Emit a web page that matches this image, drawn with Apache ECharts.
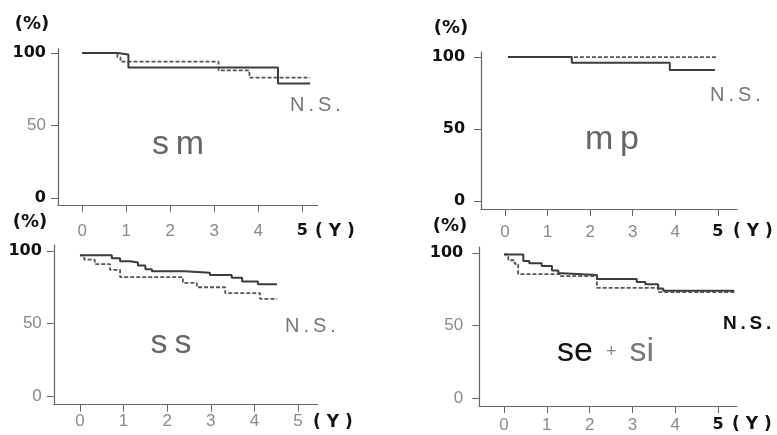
<!DOCTYPE html>
<html><head><meta charset="utf-8">
<script src="https://cdn.jsdelivr.net/npm/echarts@6/dist/echarts.min.js"></script>
<style>html,body{margin:0;padding:0;background:#fff}#c{width:777px;height:435px}</style>
</head><body><div id="c"></div>
<script>
// ---- data ----
const xTicks = [0, 1, 2, 3, 4, 5];
const yTicks = [0, 50, 100];
const panelNames = ['sm', 'mp', 'ss', 'se + si'];
const smSolid  = [[0,100],[0.8,99],[1.05,90],[4.45,79],[5.18,79]];
const smDashed = [[0,100],[0.8,97],[0.87,94],[3.1,88],[3.8,83],[5.18,83]];
const mpSolid  = [[0.07,100],[1.57,96],[3.87,91],[4.93,91]];
const mpDashed = [[0.07,100],[1.57,100],[4.97,100]];
const ssSolid  = [[0,97],[0.73,95],[0.92,93],[1.15,92],[1.33,90],[1.5,87.5],[1.65,86],[2.4,85],[2.98,83.5],[3.48,81.5],[3.72,79],[4.08,77],[4.52,77]];
const ssDashed = [[0,97],[0.1,94],[0.34,91],[0.69,87],[0.92,82],[2.36,78],[2.68,75],[3.33,71],[4.13,67],[4.52,67]];
const sesiSolid  = [[0,99],[0.45,94.5],[0.59,93],[0.88,91],[1.12,88],[1.27,86],[1.35,84.8],[2.17,82],[3.1,80],[3.3,78.5],[3.6,75.5],[3.72,74],[5.38,74]];
const sesiDashed = [[0,99],[0.1,95],[0.25,92.5],[0.33,85.5],[1.3,84],[2.17,76],[3.6,73],[5.38,73]];
const sigText = 'N.S.';

// ---- layout / style ----
const solidSets = [smSolid, mpSolid, ssSolid, sesiSolid];
const dashedSets = [smDashed, mpDashed, ssDashed, sesiDashed];
const panels = [
  {grid:{left:58,top:48.65,width:259.6,height:156.6}, x:[-0.55,5.35], y:[-5,103], xm:18, ym:12, yst:['b','g','b'], five:'b'},
  {grid:{left:481.1,top:52,width:256,height:157}, x:[-0.56,5.45], y:[-5.5,103.5], xm:15, ym:16, yst:['b','b','b'], five:'b'},
  {grid:{left:53.8,top:245.2,width:263.8,height:159.5}, x:[-0.6,5.45], y:[-6,104], xm:8, ym:12, yst:['g','g','b'], five:'g'},
  {grid:{left:479.2,top:247.2,width:257.7,height:158.8}, x:[-0.58,5.44], y:[-5.5,104], xm:11, ym:16, yst:['g','g','b'], five:'b'}
];
const rich = {
  g:{color:'#8a8a8a', fontSize:17, fontFamily:'Liberation Sans'},
  b:{color:'#111', fontSize:16, fontWeight:'bold', fontFamily:'DejaVu Sans'}
};
const axisLine = {show:true, onZero:false, lineStyle:{color:'#666', width:1.2}};
const grids=[], xAxes=[], yAxes=[], series=[];
panels.forEach((p,i)=>{
  grids.push(Object.assign({containLabel:false}, p.grid));
  xAxes.push({type:'value', gridIndex:i, min:p.x[0], max:p.x[1], axisLine,
    splitLine:{show:false},
    axisTick:{show:true, customValues:xTicks, length:7, lineStyle:{color:'#666'}},
    axisLabel:{customValues:xTicks, margin:p.xm, rich,
      formatter:v=> (v===5 ? '{'+p.five+'|5}' : '{g|'+v+'}')}});
  yAxes.push({type:'value', gridIndex:i, min:p.y[0], max:p.y[1], axisLine,
    splitLine:{show:false},
    axisTick:{show:true, customValues:yTicks, length:7, lineStyle:{color:'#666'}},
    axisLabel:{customValues:yTicks, margin:p.ym, rich,
      formatter:v=> '{'+p.yst[yTicks.indexOf(v)]+'|'+v+'}'}});
  series.push({type:'line', xAxisIndex:i, yAxisIndex:i, step:'end', symbol:'none', silent:true,
    data:dashedSets[i], lineStyle:{color:'#555', width:1.8, type:[4,2]}});
  series.push({type:'line', xAxisIndex:i, yAxisIndex:i, step:'end', symbol:'none', silent:true,
    data:solidSets[i], lineStyle:{color:'#3c3c3c', width:2}});
});

function txt(x,y,text,font,fill,align){
  return {type:'text', x, y, silent:true, style:{text, font, fill, align:align||'center', verticalAlign:'middle'}};
}
const big = '34px "Liberation Sans"';
const ns = '20px "Liberation Sans"';
const spaced = s => s.split('').join('\u2009');
const nameParts = panelNames[3].split(' ');
const graphic = [
  txt(32,24,'(%)','bold 18px "DejaVu Sans"','#111'),
  txt(451,28,'(%)','bold 18px "DejaVu Sans"','#111'),
  txt(30,222,'(%)','bold 18px "DejaVu Sans"','#111'),
  txt(450,226,'(%)','bold 18px "DejaVu Sans"','#111'),
  txt(315,232,'( Y )','bold 17px "DejaVu Sans"','#111','left'),
  txt(733,232,'( Y )','bold 17px "DejaVu Sans"','#111','left'),
  txt(313,423,'( Y )','bold 17px "DejaVu Sans"','#111','left'),
  txt(732,425,'( Y )','bold 17px "DejaVu Sans"','#111','left'),
  txt(178,145,spaced(panelNames[0]),big,'#666'),
  txt(612,140,spaced(panelNames[1]),big,'#666'),
  txt(171,344,spaced(panelNames[2]),big,'#666'),
  {type:'text', x:557, y:352, silent:true, style:{
    text:'{a|'+nameParts[0]+'}{p|'+nameParts[1]+'}{c|'+nameParts[2]+'}', align:'left', verticalAlign:'middle',
    rich:{a:{fontSize:34,fontFamily:'Liberation Sans',fill:'#111'},
          p:{fontSize:18,fontFamily:'Liberation Sans',fill:'#888',padding:[0,13,0,13]},
          c:{fontSize:34,fontFamily:'Liberation Sans',fill:'#777'}}}},
  txt(290,105,spaced(sigText),ns,'#777','left'),
  txt(710,95,spaced(sigText),ns,'#777','left'),
  txt(285,326,spaced(sigText),ns,'#777','left'),
  txt(723,324,spaced(sigText),'bold 19px "Liberation Sans"','#111','left')
];

const chart = echarts.init(document.getElementById('c'), null, {renderer:'canvas'});
chart.setOption({animation:false, backgroundColor:'#fff', grid:grids, xAxis:xAxes, yAxis:yAxes, series, graphic});
</script></body></html>
